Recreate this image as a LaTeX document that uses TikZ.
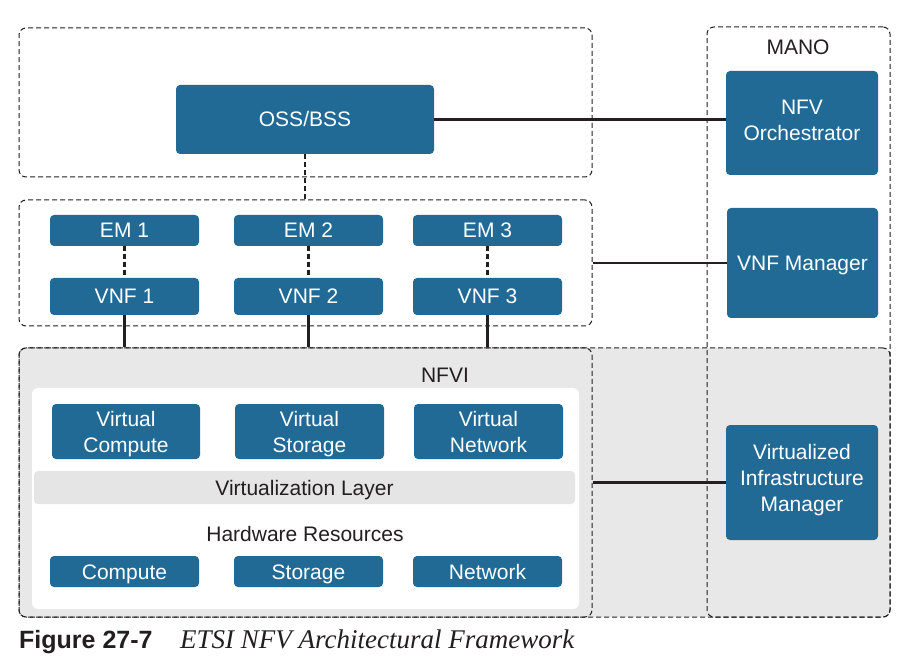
\documentclass[tikz,border=0pt]{standalone}
\usepackage{fontspec}
\setmainfont{Liberation Sans}
\newfontfamily\capserif{Liberation Serif}
\usetikzlibrary{calc}

\definecolor{nfvblue}{RGB}{34,106,150}
\definecolor{inkgray}{RGB}{35,31,32}
\definecolor{infragray}{RGB}{232,232,232}
\definecolor{layergray}{RGB}{229,229,229}

\tikzset{
  block/.style={fill=nfvblue, text=white, rounded corners=4pt, align=center,
    inner sep=0pt, font=\fontsize{21}{26}\selectfont},
  oneline/.style={text height=15pt, text depth=0pt},
  twoline/.style={text height=41pt, text depth=0pt},
  threeline/.style={text height=67pt, text depth=0pt},
  frame/.style={draw=inkgray, line width=1pt, dash pattern=on 5pt off 3pt,
    rounded corners=7pt, inner sep=0pt},
  link/.style={draw=inkgray, line width=2.2pt},
  dashlink/.style={link, dash pattern=on 5pt off 3pt},
  tag/.style={text=inkgray, inner sep=0pt, oneline, font=\fontsize{21}{26}\selectfont},
}

\begin{document}
\begin{tikzpicture}[x=1pt,y=-1pt]
\useasboundingbox (0,0) rectangle (908,660);
% dashed layers
\node[frame, fill=infragray, minimum width=871pt, minimum height=269pt] (infra) at (454.5,482.5) {};
\node[frame, minimum width=573pt, minimum height=149pt] (osslayer) at (305.5,102.5) {};
\node[frame, minimum width=573pt, minimum height=126pt] (vnflayer) at (305.5,263) {};
\node[frame, minimum width=573pt, minimum height=269pt] (nfvi) at (305.5,482.5) {};
\node[frame, minimum width=183pt, minimum height=590pt] (mano) at (798.5,322) {};
%
\node[tag] (manotag) at (798,47) {MANO};
\node[block, oneline, minimum width=258pt, minimum height=69pt] (oss) at (305,119.5) {OSS/BSS};
\node[block, twoline, text depth=5pt, minimum width=152pt, minimum height=104pt] (orch) at (802,123) {NFV\\Orchestrator};
\node[block, oneline, minimum width=151pt, minimum height=110pt] (vnfm) at (802.5,263) {VNF Manager};
\node[block, threeline, text depth=9pt, minimum width=152pt, minimum height=115pt] (vim) at (802,482.5) {Virtualized\\Infrastructure\\Manager};
% EMs and VNFs
\node[block, oneline, minimum width=149pt, minimum height=31pt] (em1) at (124.5,230.5) {EM 1};
\node[block, oneline, minimum width=149pt, minimum height=31pt] (em2) at (308.5,230.5) {EM 2};
\node[block, oneline, minimum width=149pt, minimum height=31pt] (em3) at (487.5,230.5) {EM 3};
\node[block, oneline, minimum width=149pt, minimum height=37pt] (vnf1) at (124.5,296.5) {VNF 1};
\node[block, oneline, minimum width=149pt, minimum height=37pt] (vnf2) at (308.5,296.5) {VNF 2};
\node[block, oneline, minimum width=149pt, minimum height=37pt] (vnf3) at (487.5,296.5) {VNF 3};
% NFVI
\node[tag] (nfvitag) at (445,374.5) {NFVI};
\node[fill=white, rounded corners=6pt, inner sep=0pt, minimum width=547pt, minimum height=221pt] (panel) at (305.5,498.5) {};
\node[block, twoline, minimum width=148pt, minimum height=55pt] (vcomp) at (126,431.5) {Virtual\\Compute};
\node[block, twoline, minimum width=149pt, minimum height=55pt] (vstor) at (309.5,431.5) {Virtual\\Storage};
\node[block, twoline, minimum width=149pt, minimum height=55pt] (vnet) at (488.5,431.5) {Virtual\\Network};
\node[tag, fill=layergray, rounded corners=4pt, minimum width=541pt, minimum height=33pt] (virt) at (304.5,487.5) {Virtualization Layer};
\node[tag] (hwtag) at (305,534.3) {Hardware Resources};
\node[block, oneline, minimum width=149pt, minimum height=31pt] (comp) at (124.5,571.5) {Compute};
\node[block, oneline, minimum width=149pt, minimum height=31pt] (stor) at (308.5,571.5) {Storage};
\node[block, oneline, minimum width=149pt, minimum height=31pt] (net) at (487.5,571.5) {Network};
% connectors
\draw[link] (oss.east) -- (oss.east -| orch.west);
\draw[link] (vnflayer.east) -- (vnflayer.east -| vnfm.west);
\draw[link] (nfvi.east) -- (nfvi.east -| vim.west);
\draw[dashlink] (oss.south) -- (oss.south |- vnflayer.north);
\draw[dashlink] (em1) -- (vnf1);
\draw[dashlink] (em2) -- (vnf2);
\draw[dashlink] (em3) -- (vnf3);
\draw[link] (vnf1.south) -- (vnf1.south |- nfvi.north);
\draw[link] (vnf2.south) -- (vnf2.south |- nfvi.north);
\draw[link] (vnf3.south) -- (vnf3.south |- nfvi.north);
% caption
\node[anchor=base west, inner sep=0pt, text=inkgray, font=\fontsize{25}{28}\selectfont\bfseries] (fignum) at (19,648) {Figure 27-7};
\node[anchor=base west, inner sep=0pt, text=inkgray, font=\capserif\fontsize{27}{30}\selectfont\itshape] (figtitle) at (180,648) {ETSI NFV Architectural Framework};
\end{tikzpicture}
\end{document}
